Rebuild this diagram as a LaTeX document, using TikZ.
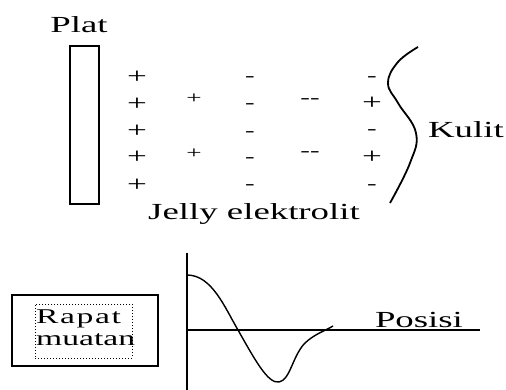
\documentclass[tikz,border=0pt]{standalone}
\usepackage{fontspec}
\setmainfont{Liberation Serif}
\usepackage{graphicx}
\newcommand\stretchtxt[1]{\scalebox{1.6}[1]{#1}}
\tikzset{
  lbl/.style={inner sep=0pt, font=\fontsize{23}{26}\selectfont},
  sgn/.style={inner sep=0pt, font=\fontsize{22}{24}\selectfont},
  smallsgn/.style={inner sep=0pt, font=\fontsize{17}{20}\selectfont},
  dsh/.style={inner sep=0pt, font=\fontsize{18}{20}\selectfont},
}
\begin{document}
\begin{tikzpicture}[x=1pt,y=-1pt]
\useasboundingbox (0,0) rectangle (506,390);
% Plate
\node[lbl] (plat) at (79,25) {\stretchtxt{Plat}};
\node[draw, line width=1.5pt, minimum width=29pt, minimum height=158pt, inner sep=0pt] (plate) at (84.5,125) {};
% column 1
\foreach \i/\y in {1/77,2/104,3/131,4/157,5/185}{
  \node[sgn] (pa\i) at (137,\y) {\stretchtxt{+}};
}
% column 2
\node[smallsgn] (pb1) at (194,99) {\stretchtxt{+}};
\node[smallsgn] (pb2) at (194,154) {\stretchtxt{+}};
% column 3
\foreach \i/\y in {1/79,2/106,3/134,4/160,5/187}{
  \node[dsh] (mc\i) at (250,\y) {\stretchtxt{-}};
}
% column 4
\node[dsh] (md1) at (310,101) {\stretchtxt{-{}-}};
\node[dsh] (md2) at (310,154) {\stretchtxt{-{}-}};
% column 5
\node[dsh] (me1) at (372,79) {\stretchtxt{-}};
\node[sgn] (me2) at (372,103) {\stretchtxt{+}};
\node[dsh] (me3) at (372,132) {\stretchtxt{-}};
\node[sgn] (me4) at (372,157) {\stretchtxt{+}};
\node[dsh] (me5) at (372,187) {\stretchtxt{-}};
% Skin curve
\draw[line width=1.8pt] plot[smooth, tension=0.7] coordinates {(418,47) (398,62) (388,83) (398,103) (416,133) (410,163) (390,203)};
\node[lbl] (kulit) at (466,130) {\stretchtxt{Kulit}};
\node[lbl] (jelly) at (254,214) {\stretchtxt{Jelly elektrolit}};
% Bottom: label box
\node[draw, line width=1.6pt, minimum width=146pt, minimum height=71pt, inner sep=0pt] (outer) at (85,330.5) {};
\node[draw, dotted, line width=1pt, minimum width=97pt, minimum height=54pt, inner sep=0pt] (inner) at (83.5,331) {};
\node[inner sep=0pt, anchor=west, align=left, font=\fontsize{21}{23}\selectfont] (rapat) at (36,328) {\stretchtxt{R\kern1pt a\kern1pt p\kern1pt a\kern1pt t}\\[-1pt]\stretchtxt{muatan}};
% Axes
\coordinate (ytop) at (187,253);
\coordinate (ybot) at (187,390);
\coordinate (xl) at (187,330);
\coordinate (xr) at (480,330);
\draw[line width=1.3pt] (ytop) -- (ybot);
\draw[line width=1.3pt] (xl) -- (xr);
\node[lbl] (posisi) at (419,320) {\stretchtxt{Posisi}};
% Charge density curve
\draw[line width=1.4pt] (187,275) .. controls (212,275) and (225,308) .. (238,330)
  .. controls (255,360) and (268,384) .. (279,382)
  .. controls (290,380) and (292,358) .. (304,344)
  .. controls (314,334) and (325,331) .. (333,326);
\end{tikzpicture}
\end{document}
